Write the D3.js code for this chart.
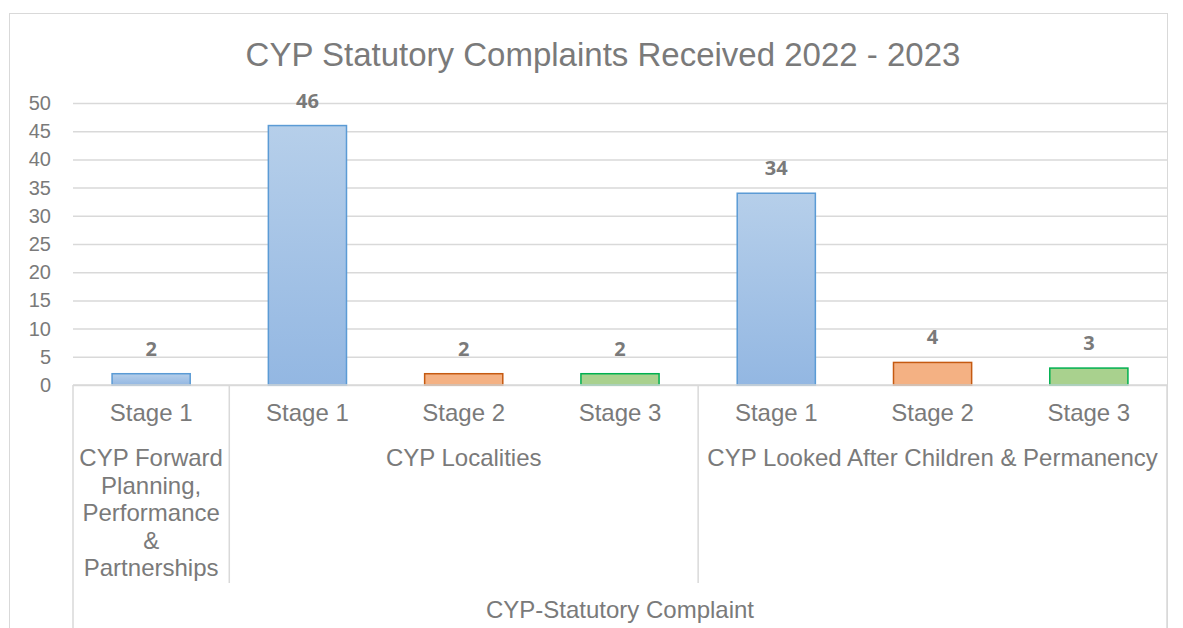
<!DOCTYPE html>
<html>
<head>
<meta charset="UTF-8">
<title>CYP Statutory Complaints</title>
<script src="https://d3js.org/d3.v7.min.js"></script>
<style>
  body { margin: 0; background: #fff; }
  text { font-family: "Liberation Sans", Arial, sans-serif; fill: #7a7a7a; }
  .val { font-family: "Open Sans", sans-serif; font-weight: bold; }
</style>
</head>
<body>
<svg id="chart" width="1183" height="628"></svg>
<script>
// data
var stages = ['Stage 1', 'Stage 1', 'Stage 2', 'Stage 3', 'Stage 1', 'Stage 2', 'Stage 3'];
var groups = ['CYP Forward Planning, Performance & Partnerships', 'CYP Localities', 'CYP Looked After Children & Permanency'];
var groupOf = [0, 1, 1, 1, 2, 2, 2];
var values = [2, 46, 2, 2, 34, 4, 3];
var yTicks = [0, 5, 10, 15, 20, 25, 30, 35, 40, 45, 50];
var outerLabel = 'CYP-Statutory Complaint';
var title = 'CYP Statutory Complaints Received 2022 - 2023';

var fills = { 'Stage 1': 'url(#blueGrad)', 'Stage 2': '#f4b183', 'Stage 3': '#a9d18e' };
var strokes = { 'Stage 1': '#5b9bd5', 'Stage 2': '#c55a11', 'Stage 3': '#00b050' };

var svg = d3.select('#chart');
var plotLeft = 73, plotRight = 1167, plotTop = 103, plotBase = 385;

var defs = svg.append('defs');
var grad = defs.append('linearGradient').attr('id', 'blueGrad')
    .attr('x1', 0).attr('y1', 0).attr('x2', 0).attr('y2', 1);
grad.append('stop').attr('offset', '0%').attr('stop-color', '#b6cfea');
grad.append('stop').attr('offset', '100%').attr('stop-color', '#93b7e2');

// chart border
svg.append('rect').attr('x', 9.5).attr('y', 13.5).attr('width', 1158).attr('height', 640)
    .attr('fill', 'none').attr('stroke', '#d9d9d9');

svg.append('text').attr('x', 603).attr('y', 66).attr('text-anchor', 'middle')
    .style('font-size', '33px').text(title);

var x = d3.scaleBand().domain(d3.range(values.length)).range([plotLeft, plotRight])
    .paddingInner(0.5).paddingOuter(0.25);
var y = d3.scaleLinear().domain([0, 50]).range([plotBase, plotTop]);

// gridlines
svg.append('g').attr('transform', 'translate(' + plotLeft + ',0)')
    .call(d3.axisLeft(y).tickValues(yTicks).tickSize(-(plotRight - plotLeft)).tickFormat(''))
    .call(function(g) {
        g.select('.domain').remove();
        g.selectAll('line').attr('stroke', '#d9d9d9').attr('stroke-width', 1.5);
    });

// y tick labels
svg.append('g').attr('transform', 'translate(' + plotLeft + ',0)')
    .call(d3.axisLeft(y).tickValues(yTicks).tickSize(0).tickPadding(22))
    .call(function(g) {
        g.select('.domain').remove();
        g.selectAll('text').style('font-size', '20px').attr('fill', '#7a7a7a')
            .style('font-family', '"Liberation Sans", Arial, sans-serif');
    });

// bars
svg.selectAll('.bar').data(values).enter().append('rect')
    .attr('class', 'bar')
    .attr('x', function(d, i) { return x(i); })
    .attr('y', function(d) { return y(d); })
    .attr('width', x.bandwidth())
    .attr('height', function(d) { return plotBase - y(d); })
    .attr('fill', function(d, i) { return fills[stages[i]]; })
    .attr('stroke', function(d, i) { return strokes[stages[i]]; })
    .attr('stroke-width', 1.5);

// value labels
svg.selectAll('.val').data(values).enter().append('text')
    .attr('class', 'val')
    .attr('x', function(d, i) { return x(i) + x.bandwidth() / 2; })
    .attr('y', function(d) { return y(d) - 18; })
    .attr('text-anchor', 'middle')
    .style('font-size', '20px')
    .text(function(d) { return d; });

// category axis (multi-level)
var step = x.step();
var edge = function(i) { return x(i) - step * 0.25; };
var axisG = svg.append('g');
axisG.append('line').attr('x1', plotLeft).attr('x2', plotRight).attr('y1', plotBase).attr('y2', plotBase)
    .attr('stroke', '#d9d9d9').attr('stroke-width', 1.5);

axisG.selectAll('.stage').data(stages).enter().append('text')
    .attr('x', function(d, i) { return x(i) + x.bandwidth() / 2; })
    .attr('y', 421)
    .attr('text-anchor', 'middle')
    .style('font-size', '24px')
    .text(function(d) { return d; });

// group spans
var spans = groups.map(function(g, gi) {
    var idx = d3.range(values.length).filter(function(i) { return groupOf[i] === gi; });
    return { name: g, x0: edge(idx[0]), x1: edge(idx[idx.length - 1]) + step };
});

// separators between groups
spans.slice(1).forEach(function(s) {
    axisG.append('line').attr('x1', s.x0).attr('x2', s.x0).attr('y1', plotBase).attr('y2', 583)
        .attr('stroke', '#d9d9d9').attr('stroke-width', 1.5);
});
[plotLeft, plotRight].forEach(function(px) {
    axisG.append('line').attr('x1', px).attr('x2', px).attr('y1', plotBase).attr('y2', 628)
        .attr('stroke', '#d9d9d9').attr('stroke-width', 1.5);
});

spans.forEach(function(s) {
    var t = axisG.append('text')
        .attr('x', (s.x0 + s.x1) / 2).attr('y', 466)
        .attr('text-anchor', 'middle')
        .style('font-size', '24px');
    wrap(t, s.name, s.x1 - s.x0 - 6, (s.x0 + s.x1) / 2);
});

axisG.append('text').attr('x', (plotLeft + plotRight) / 2).attr('y', 618)
    .attr('text-anchor', 'middle').style('font-size', '24px').text(outerLabel);

function wrap(text, str, maxW, cx) {
    var words = str.split(' '), line = [];
    var tspan = text.append('tspan').attr('x', cx).attr('dy', 0);
    words.forEach(function(w) {
        line.push(w);
        tspan.text(line.join(' '));
        if (tspan.node().getComputedTextLength() > maxW && line.length > 1) {
            line.pop();
            tspan.text(line.join(' '));
            line = [w];
            tspan = text.append('tspan').attr('x', cx).attr('dy', 27.5).text(w);
        }
    });
}
</script>
</body>
</html>
